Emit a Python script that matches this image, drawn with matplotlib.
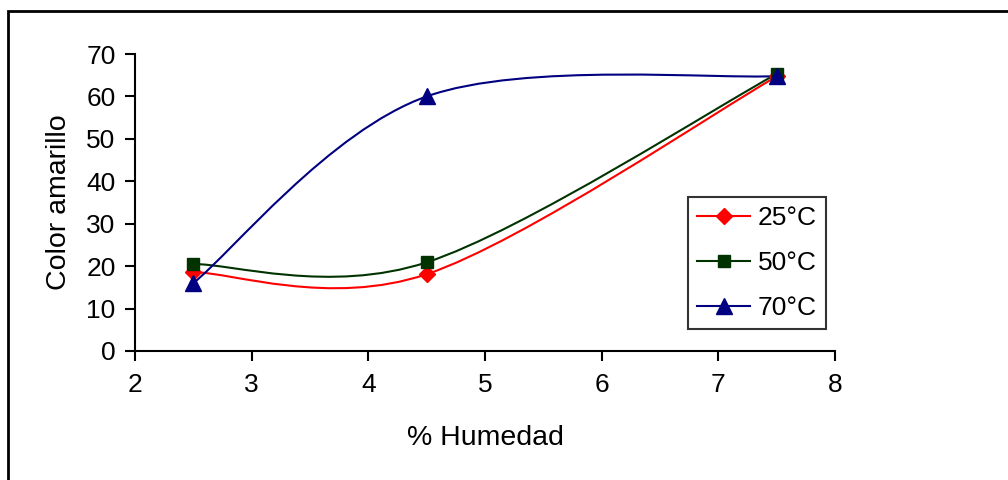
import numpy as np
import matplotlib
matplotlib.use("Agg")
import matplotlib.pyplot as plt
from matplotlib.path import Path
from matplotlib.patches import PathPatch, Rectangle

plt.rcParams['font.family'] = ['Liberation Sans', 'DejaVu Sans']

# Datos
humedad = [2.5, 4.5, 7.5]
color_25 = [18.6, 18.1, 64.7]
color_50 = [20.5, 20.9, 65.3]
color_70 = [16.0, 60.0, 64.8]
etiquetas = ['25°C', '50°C', '70°C']
colores = ['#ff0000', '#003300', '#000080']
marcadores = ['D', 's', '^']
tamanos = [8.5, 9, 11]


def curva_suave(x, y):
    # Suavizado tipo Excel: segmentos Bezier cubicos entre los puntos
    pts = np.column_stack([x, y]).astype(float)
    n = len(pts)
    verts = [pts[0]]
    codes = [Path.MOVETO]
    for i in range(n - 1):
        p0 = pts[max(i - 1, 0)]
        p1 = pts[i]
        p2 = pts[i + 1]
        p3 = pts[min(i + 2, n - 1)]
        c1 = p1 + (p2 - p0) / 6.0
        c2 = p2 - (p3 - p1) / 6.0
        verts += [c1, c2, p2]
        codes += [Path.CURVE4] * 3
    return Path(verts, codes)


fig = plt.figure(figsize=(10.08, 4.8), dpi=100)
ax = fig.add_axes([0.1339, 0.26875, 0.6945, 0.61875])

series = [color_25, color_50, color_70]
for ys, lab, col, mk, ms in zip(series, etiquetas, colores, marcadores, tamanos):
    ax.add_patch(PathPatch(curva_suave(humedad, ys), facecolor='none',
                           edgecolor=col, lw=1.5, zorder=2))
    ax.plot(humedad, ys, linestyle='none', marker=mk, color=col,
            markersize=ms, zorder=3, clip_on=False)
    # entrada de leyenda
    ax.plot([], [], color=col, lw=1.5, marker=mk, markersize=ms, label=lab)

ax.set_xlim(2, 8)
ax.set_ylim(0, 70)
ax.set_xticks(range(2, 9))
ax.set_yticks(range(0, 71, 10))
ax.spines['top'].set_visible(False)
ax.spines['right'].set_visible(False)
ax.spines['left'].set_linewidth(1.5)
ax.spines['bottom'].set_linewidth(1.5)
ax.tick_params(axis='both', labelsize=19, width=1.5, length=7, direction='out')
ax.tick_params(axis='x', pad=9)
ax.tick_params(axis='y', pad=7)

ax.set_xlabel('% Humedad', fontsize=20.5, labelpad=20)
ax.set_ylabel('Color amarillo', fontsize=20.5, labelpad=10)

leg = ax.legend(loc='lower right', bbox_to_anchor=(0.995, 0.055), fontsize=19,
                frameon=True, fancybox=False, handlelength=2.0,
                borderpad=0.35, labelspacing=0.8, handletextpad=0.3,
                borderaxespad=0.2)
leg.get_frame().set_edgecolor('black')
leg.get_frame().set_linewidth(1.5)

# marco exterior del grafico
fig.patches.append(Rectangle((8 / 1008, -0.1), 1.1, 1 - 11 / 480 + 0.1,
                             transform=fig.transFigure, fill=False,
                             edgecolor='black', lw=2))

fig.savefig('out.png', dpi=100)
